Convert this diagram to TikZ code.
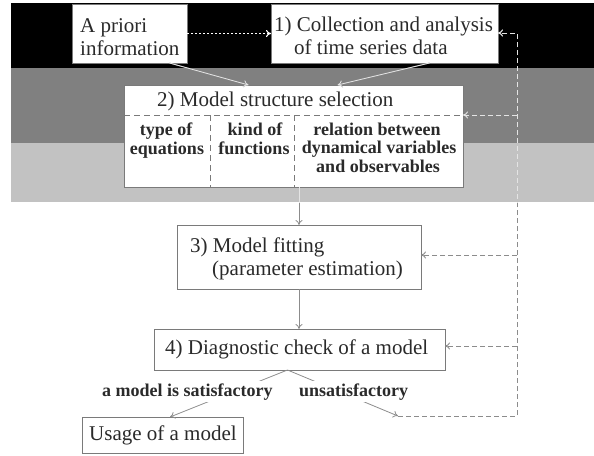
\documentclass[tikz,border=0pt]{standalone}
\usepackage{fontspec}
\setmainfont{Liberation Serif}
\usetikzlibrary{arrows.meta}

\definecolor{bandA}{HTML}{000000}
\definecolor{bandB}{HTML}{808080}
\definecolor{bandC}{HTML}{C2C2C2}
\definecolor{edge}{HTML}{7A7A7A}
\definecolor{ink}{HTML}{2A2A2A}
\definecolor{wire}{HTML}{8C8C8C}
\definecolor{wirelight}{HTML}{E4E4E4}

% connectors between the stages, drawn in the colour given
\newcommand\stagewires[1]{%
  \draw[flow,draw=#1] ([xshift=40pt]apriori.south) -- ([xshift=-45pt]msel.north);
  \draw[flow,draw=#1] ([xshift=45pt]coll.south) -- ([xshift=44pt]msel.north);
  \draw[flow,draw=#1] (fit.north |- msel.south) -- (fit.north);
  \draw[flow,draw=#1] (fit.south) -- (fit.south |- diag.north);
  \draw[back,draw=#1] (lp0) -- (lp1) -- (lp2) -- (lp2 -| coll.east);
  \draw[back,draw=#1] (t2) -- (t2 -| msel.east);
  \draw[back,draw=#1] (t3) -- (t3 -| fit.east);
  \draw[back,draw=#1] (t4) -- (t4 -| diag.east);
}

\begin{document}
\begin{tikzpicture}[x=1pt,y=-1pt,
  box/.style={draw=edge, fill=white, line width=0.8pt, inner sep=0pt, outer sep=0pt, anchor=north west},
  txt/.style={inner sep=0pt, anchor=base west, text=ink, font=\fontsize{21}{23}\selectfont},
  btxt/.style={inner sep=0pt, anchor=base, text=ink, font=\bfseries\fontsize{18}{19}\selectfont},
  lbl/.style={fill=white, inner sep=2.5pt, anchor=base west, text=ink, font=\bfseries\fontsize{18}{19}\selectfont},
  flow/.style={line width=0.8pt, -{To[length=5pt,width=7pt]}},
  back/.style={line width=0.9pt, dash pattern=on 5pt off 3pt, -{To[length=5pt,width=7pt]}},
  innerdash/.style={draw=edge, line width=0.8pt, dash pattern=on 6pt off 4pt},
]
\useasboundingbox (0,0) rectangle (594,455);

% background bands
\fill[bandA] (11,3) rectangle (594,68);
\fill[bandB] (11,68) rectangle (594,143);
\fill[bandC] (11,143) rectangle (594,202);

% stage boxes
\node[box, minimum width=115pt, minimum height=59pt] (apriori) at (72,4) {};
\node[box, minimum width=227pt, minimum height=59pt] (coll) at (271,4) {};
\node[box, minimum width=339pt, minimum height=102pt] (msel) at (124,85) {};
\node[box, minimum width=244pt, minimum height=64pt] (fit) at (177,225) {};
\node[box, minimum width=291pt, minimum height=41pt] (diag) at (154,329) {};
\node[box, minimum width=161pt, minimum height=36pt] (usage) at (82,417) {};

% sub-columns of the model structure box
\coordinate (c0) at (124,115);
\coordinate (c1) at (210,115);
\coordinate (c2) at (294,115);
\draw[innerdash] (c0) -- (c0 -| msel.east);
\draw[innerdash] (c1) -- (c1 |- msel.south);
\draw[innerdash] (c2) -- (c2 |- msel.south);

% box texts
\node[txt] (ap1) at (80,32) {A priori};
\node[txt] (ap2) at (80,55) {information};
\node[txt] (co1) at (274,31) {1) Collection and analysis};
\node[txt] (co2) at (294,54) {of time series data};
\node[txt] (ms0) at (157,106) {2) Model structure selection};
\node[btxt] (ms11) at (166,135) {type of};
\node[btxt] (ms12) at (167,154) {equations};
\node[btxt] (ms21) at (255,135) {kind of};
\node[btxt] (ms22) at (254,154) {functions};
\node[btxt] (ms31) at (377,135) {relation between};
\node[btxt] (ms32) at (379,153.5) {dynamical variables};
\node[btxt] (ms33) at (378,172.5) {and observables};
\node[txt] (fi1) at (190,252) {3) Model fitting};
\node[txt] (fi2) at (212,275) {(parameter estimation)};
\node[txt] (di1) at (165,354) {4) Diagnostic check of a model};
\node[txt] (us1) at (89,440) {Usage of a model};

% feedback loop points
\coordinate (lp0) at (398,416);
\coordinate (lp1) at (517,416);
\coordinate (lp2) at (517,33);
\coordinate (t2) at (517,115);
\coordinate (t3) at (517,255);
\coordinate (t4) at (517,346);

% prior information feeds the data collection
\draw[line width=1.1pt, white, dash pattern=on 2pt off 2pt, -{To[length=5pt,width=7pt]}]
  (apriori.east) -- (coll.west);

% connectors: gray on white, light over the bands
\stagewires{wire}
\begin{scope}
  \clip (11,3) rectangle (594,202);
  \stagewires{wirelight}
\end{scope}

% outcome of the diagnostic check
\coordinate (apex) at ([xshift=-12pt]diag.south);
\draw[flow,draw=wire] (apex) -- ([xshift=7.5pt]usage.north);
\draw[flow,draw=wire] (apex) -- (lp0);
\node[lbl] (ok) at (99.5,396) {a model is satisfactory};
\node[lbl] (notok) at (296.5,396) {unsatisfactory};
\end{tikzpicture}
\end{document}
